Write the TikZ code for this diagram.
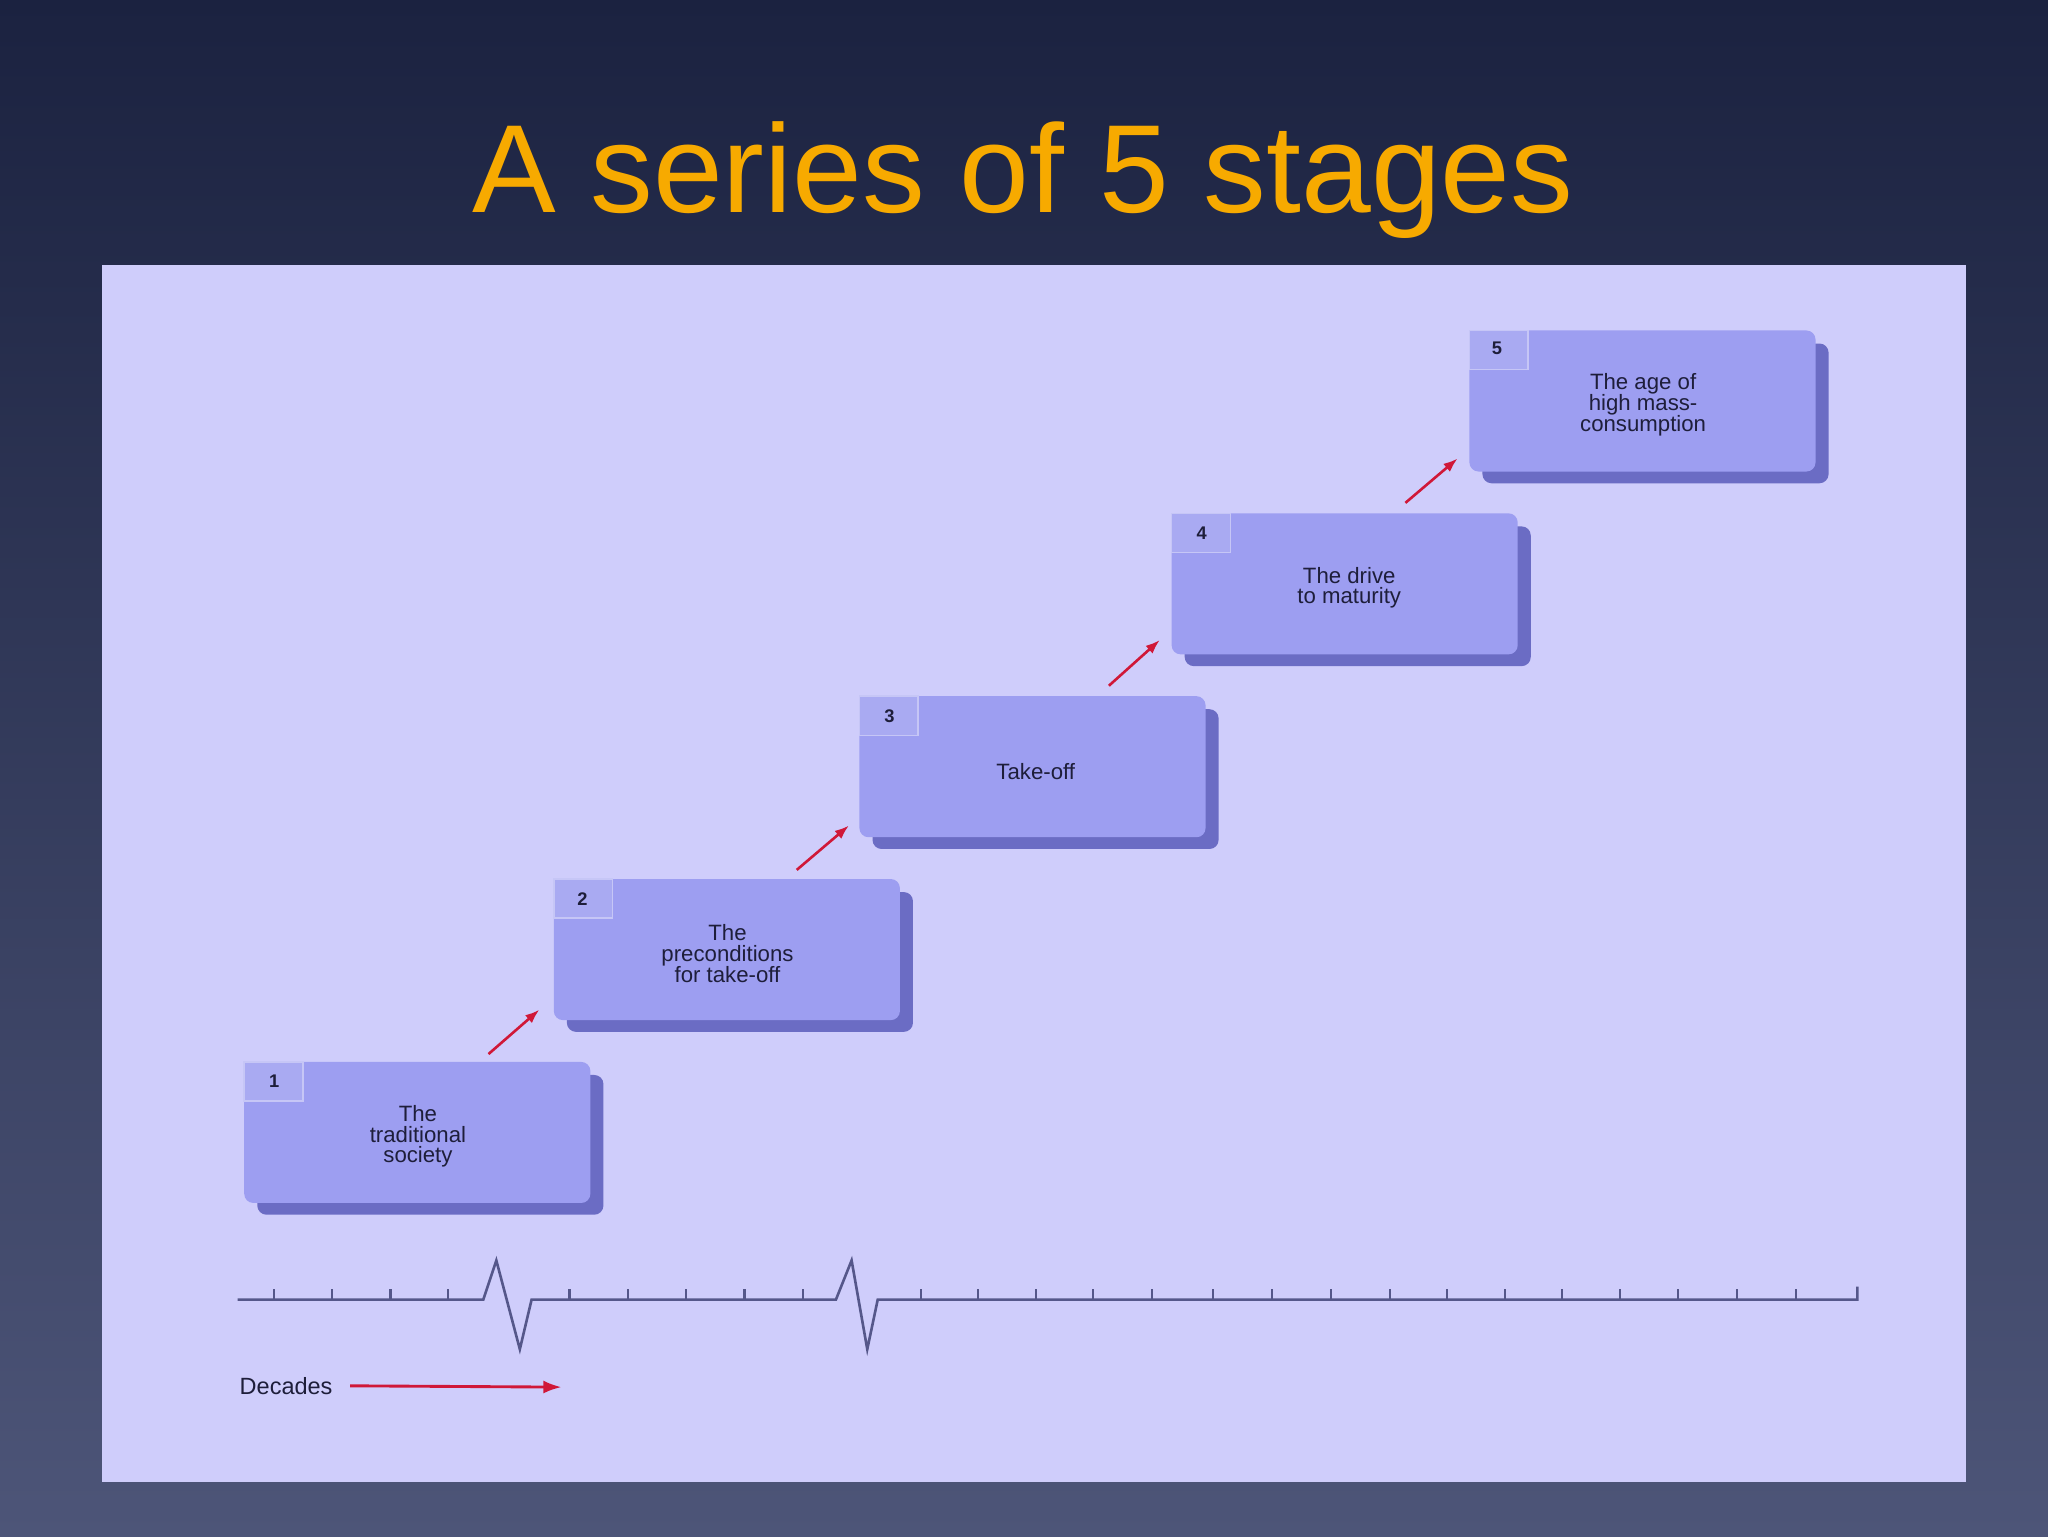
\documentclass[tikz,border=0pt]{standalone}
\usepackage{fontspec}
\setmainfont{Liberation Sans}
\begin{document}
\begin{tikzpicture}[x=1pt,y=-1pt,
  face/.style={fill=boxface,rounded corners=7pt},
  shadow/.style={fill=boxshadow,rounded corners=7pt},
  tab/.style={fill=tabfill,draw=tabline,line width=1.2pt},
  num/.style={font=\fontsize{14}{14}\selectfont\bfseries,text=txt},
  lbl/.style={font=\fontsize{17}{16}\selectfont,text=txt,align=center},
  stepar/.style={draw=arrowred,line width=2pt,-{Latex[length=11pt,width=8pt]}},
  axis/.style={draw=axiscol,line width=2pt,line join=miter}]
\usetikzlibrary{arrows.meta}
\definecolor{boxface}{HTML}{9D9EF1}
\definecolor{boxshadow}{HTML}{6B6CC4}
\definecolor{tabfill}{HTML}{A9AAF2}
\definecolor{tabline}{HTML}{C6C6F6}
\definecolor{txt}{HTML}{1E1E3A}
\definecolor{arrowred}{HTML}{D01838}
\definecolor{axiscol}{HTML}{55578A}
\definecolor{panel}{HTML}{CFCDFB}
\definecolor{bgtop}{HTML}{1B2240}
\definecolor{bgbot}{HTML}{4D5578}
\definecolor{titlecol}{HTML}{F7AA00}
\useasboundingbox (0,0) rectangle (1568,1176);
\shade[top color=bgtop,bottom color=bgbot] (0,0) rectangle (1568,1176);
\fill[panel] (78,203) rectangle (1505,1135);
\node[font=\fontsize{96}{96}\selectfont,text=titlecol,anchor=base] (title) at (783,163) {A series of 5 stages};
% boxes
\foreach \i/\x/\y in {1/187/813,2/424/673,3/658/533,4/897/393,5/1125/253}{
  \fill[shadow] (\x+10,\y+10) rectangle (\x+275,\y+117);
  \fill[face] (\x,\y) rectangle (\x+265,\y+108);
  \draw[tab] (\x,\y) rectangle (\x+45,\y+30);
}
\node[num] (n1) at (210,828) {1};
\node[num] (n2) at (446,688) {2};
\node[num] (n3) at (681,548) {3};
\node[num] (n4) at (920,408) {4};
\node[num] (n5) at (1146,267) {5};
\coordinate (b1) at (187,813); \coordinate (b2) at (424,673);
\coordinate (b3) at (658,533); \coordinate (b4) at (897,393); \coordinate (b5) at (1125,253);
\node[lbl] (t1) at (320,870) {The\\traditional\\society};
\node[lbl] (t2) at (557,730) {The\\preconditions\\for take-off};
\node[lbl] (t3) at (793,591) {Take-off};
\node[lbl] (t4) at (1033,450) {The drive\\to maturity};
\node[lbl] (t5) at (1258,310) {The age of\\high mass-\\consumption};
% step arrows
\coordinate (a1s) at (374,807); \coordinate (a1e) at (413,773);
\coordinate (a2s) at (610,666); \coordinate (a2e) at (650,632);
\coordinate (a3s) at (849,525); \coordinate (a3e) at (888,490);
\coordinate (a4s) at (1076,385); \coordinate (a4e) at (1116,351);
\draw[stepar] (a1s) -- (a1e);
\draw[stepar] (a2s) -- (a2e);
\draw[stepar] (a3s) -- (a3e);
\draw[stepar] (a4s) -- (a4e);
% timeline
\draw[axis] (182,995) -- (370,995) -- (380,965) -- (398,1033) -- (407,995) -- (640,995) -- (652,965) -- (664,1033) -- (672,995) -- (1422,995) -- (1422,985);
\foreach \t in {210,254,299,343,436,481,525,570,615,705,749,793,837,882,929,974,1019,1064,1108,1152,1196,1240,1285,1330,1375}
  \draw[axiscol,line width=1.6pt] (\t,995) -- (\t,987);
\node[font=\fontsize{18}{18}\selectfont,text=txt,anchor=west] (dec) at (180,1061) {Decades};
\coordinate (de) at (430,1062);
\draw[draw=arrowred,line width=2.2pt,-{Latex[length=14pt,width=10pt]}] (dec.east) ++(10pt,0) -- (de);
\end{tikzpicture}
\end{document}
